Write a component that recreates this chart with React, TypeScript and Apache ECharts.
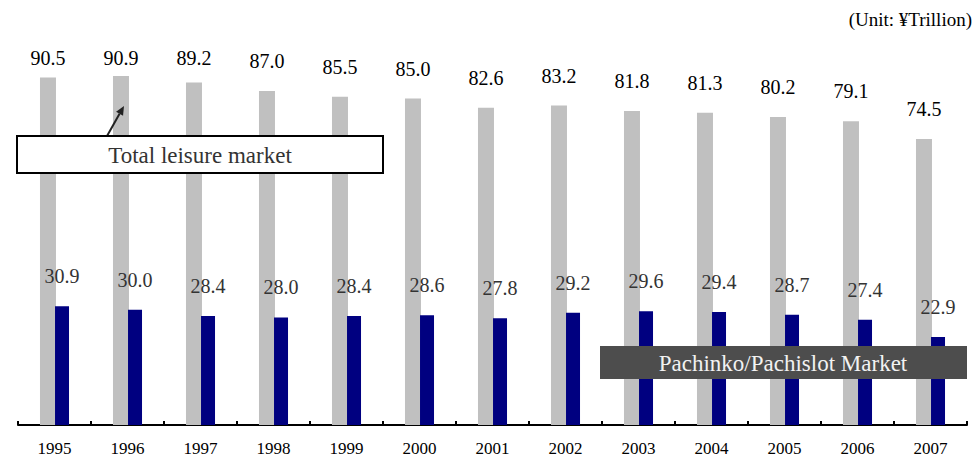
import React, { useEffect, useRef } from "react";
import * as echarts from "echarts";

const years = ["1995", "1996", "1997", "1998", "1999", "2000", "2001", "2002", "2003", "2004", "2005", "2006", "2007"];
const totalLeisure = [90.5, 90.9, 89.2, 87.0, 85.5, 85.0, 82.6, 83.2, 81.8, 81.3, 80.2, 79.1, 74.5];
const pachinko = [30.9, 30.0, 28.4, 28.0, 28.4, 28.6, 27.8, 29.2, 29.6, 29.4, 28.7, 27.4, 22.9];
const unitText = "(Unit: ¥Trillion)";
const totalLabel = "Total leisure market";
const pachinkoLabel = "Pachinko/Pachislot Market";

const FONT = "'Liberation Serif', 'Times New Roman', serif";
const W = 978;
const H = 458;
const GRID_TOP = 41;
const GRID_BOTTOM = 33;
const Y_MAX = 100;

export default function App() {
  const ref = useRef<HTMLDivElement>(null);

  useEffect(() => {
    document.body.style.margin = "0";
    if (!ref.current) return;
    const chart = echarts.init(ref.current, null, { renderer: "svg" });
    const gridH = H - GRID_TOP - GRID_BOTTOM;
    const pxPerUnit = gridH / Y_MAX;
    const axisY = H - GRID_BOTTOM;

    const topData = totalLeisure.map((v) => {
      const barTop = axisY - v * pxPerUnit;
      const center = Math.max(barTop - 30, 58);
      const distance = Math.max(2, barTop - center - 10);
      return { value: v, label: { distance } };
    });

    // arrow geometry
    const tail = [107, 136];
    const tip = [124, 106];
    const dx = tip[0] - tail[0];
    const dy = tip[1] - tail[1];
    const len = Math.sqrt(dx * dx + dy * dy);
    const ux = dx / len;
    const uy = dy / len;
    const hl = 9;
    const hw = 4;
    const bx = tip[0] - ux * hl;
    const by = tip[1] - uy * hl;
    const px = -uy;
    const py = ux;

    chart.setOption({
      animation: false,
      backgroundColor: "#ffffff",
      textStyle: { fontFamily: FONT },
      grid: { left: 18, right: 11, top: GRID_TOP, bottom: GRID_BOTTOM, containLabel: false },
      xAxis: {
        type: "category",
        data: years,
        boundaryGap: true,
        axisLine: { show: true, lineStyle: { color: "#000", width: 2 } },
        axisTick: { show: true, inside: true, length: 4, lineStyle: { color: "#000", width: 2 } },
        axisLabel: { color: "#000", fontFamily: FONT, fontSize: 17, margin: 15 },
      },
      yAxis: {
        type: "value",
        min: 0,
        max: Y_MAX,
        show: false,
        splitLine: { show: false },
      },
      series: [
        {
          type: "bar",
          name: totalLabel,
          data: topData,
          barWidth: 16,
          barGap: "-6%",
          itemStyle: { color: "#c0c0c0" },
          label: {
            show: true,
            position: "top",
            color: "#000",
            fontFamily: FONT,
            fontSize: 20,
            formatter: (p: any) => Number(p.value).toFixed(1),
          },
          z: 2,
        },
        {
          type: "bar",
          name: pachinkoLabel,
          data: pachinko,
          barWidth: 14,
          barGap: "-6%",
          itemStyle: { color: "#000080" },
          label: {
            show: true,
            position: "top",
            distance: 20,
            color: "#333",
            fontFamily: FONT,
            fontSize: 20,
            formatter: (p: any) => Number(p.value).toFixed(1),
          },
          z: 3,
        },
      ],
      graphic: [
        {
          type: "text",
          right: 6,
          top: 10,
          z: 100,
          style: { text: unitText, fill: "#000", font: `19px ${FONT}` },
        },
        {
          type: "line",
          z: 100,
          shape: { x1: tail[0], y1: tail[1], x2: bx, y2: by },
          style: { stroke: "#222", lineWidth: 2 },
        },
        {
          type: "polygon",
          z: 100,
          shape: {
            points: [
              [tip[0], tip[1]],
              [bx + px * hw, by + py * hw],
              [bx - px * hw, by - py * hw],
            ],
          },
          style: { fill: "#222" },
        },
        {
          type: "rect",
          z: 100,
          shape: { x: 17, y: 136, width: 366, height: 37 },
          style: { fill: "#fff", stroke: "#000", lineWidth: 2 },
        },
        {
          type: "text",
          z: 101,
          x: 200,
          y: 155,
          style: {
            text: totalLabel,
            fill: "#333",
            font: `23px ${FONT}`,
            align: "center",
            verticalAlign: "middle",
          },
        },
        {
          type: "rect",
          z: 100,
          shape: { x: 600, y: 346, width: 367, height: 33 },
          style: { fill: "#4d4d4d" },
        },
        {
          type: "text",
          z: 101,
          x: 783,
          y: 363,
          style: {
            text: pachinkoLabel,
            fill: "#f2f2f2",
            font: `23px ${FONT}`,
            align: "center",
            verticalAlign: "middle",
          },
        },
      ],
    });

    return () => {
      chart.dispose();
    };
  }, []);

  return (
    <div
      ref={ref}
      style={{ width: W, height: H, position: "absolute", left: 0, top: 0 }}
    />
  );
}
